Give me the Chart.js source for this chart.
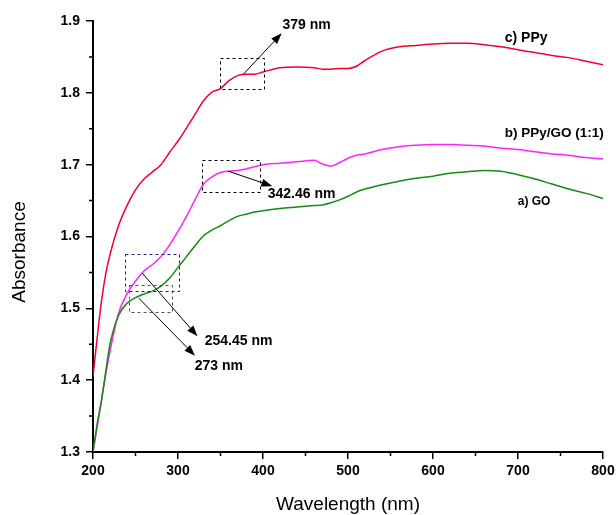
<!DOCTYPE html>
<html>
<head>
<meta charset="utf-8">
<script src="https://cdn.jsdelivr.net/npm/chart.js@4.4.1/dist/chart.umd.min.js"></script>
<style>
  html, body { margin: 0; padding: 0; background: #fff; }
  #wrap { width: 616px; height: 515px; position: relative; }
</style>
</head>
<body>
<div id="wrap"><canvas id="chart"></canvas></div>
<script>
const wavelength = [200, 205, 210, 215, 220, 230, 240, 250, 260, 270, 280, 290, 300, 310, 320, 330, 340, 350, 360, 370, 380, 390, 400, 420, 440, 460, 470, 480, 490, 500, 510, 520, 540, 560, 580, 600, 620, 640, 660, 680, 700, 720, 740, 760, 780, 800];

const ppyAbs = [1.405, 1.46, 1.51, 1.548, 1.575, 1.615, 1.643, 1.665, 1.68, 1.69, 1.70, 1.717, 1.733, 1.751, 1.770, 1.789, 1.801, 1.806, 1.817, 1.824, 1.826, 1.826, 1.829, 1.835, 1.836, 1.835, 1.833, 1.833, 1.834, 1.834, 1.837, 1.845, 1.858, 1.864, 1.866, 1.868, 1.869, 1.869, 1.867, 1.864, 1.860, 1.856, 1.852, 1.849, 1.844, 1.839];

const ppyGoAbs = [1.30, 1.335, 1.372, 1.408, 1.44, 1.493, 1.52, 1.538, 1.552, 1.561, 1.572, 1.588, 1.607, 1.628, 1.651, 1.673, 1.683, 1.689, 1.691, 1.692, 1.694, 1.697, 1.700, 1.702, 1.704, 1.706, 1.701, 1.698, 1.703, 1.709, 1.713, 1.715, 1.721, 1.725, 1.727, 1.728, 1.728, 1.727, 1.726, 1.723, 1.721, 1.718, 1.715, 1.713, 1.710, 1.708];

const goAbs = [1.30, 1.34, 1.372, 1.412, 1.45, 1.49, 1.507, 1.515, 1.52, 1.524, 1.531, 1.542, 1.557, 1.572, 1.587, 1.601, 1.609, 1.615, 1.622, 1.628, 1.631, 1.634, 1.636, 1.639, 1.641, 1.643, 1.644, 1.647, 1.651, 1.656, 1.662, 1.666, 1.672, 1.677, 1.681, 1.684, 1.688, 1.690, 1.692, 1.691, 1.686, 1.680, 1.673, 1.666, 1.660, 1.653];

const xTicks = [200, 300, 400, 500, 600, 700, 800];
const yTicks = [1.3, 1.4, 1.5, 1.6, 1.7, 1.8, 1.9];

// dashed boxes marking the peaks, in data units
const peakBoxes = [
  { x0: 349, x1: 401, y0: 1.806, y1: 1.849, color: "#000" },
  { x0: 328, x1: 396, y0: 1.663, y1: 1.707, color: "#000" },
  { x0: 238, x1: 302, y0: 1.525, y1: 1.576, color: "#1c1c8c" },
  { x0: 242, x1: 293, y0: 1.495, y1: 1.533, color: "#555" },
];
const peakArrows = [
  { from: [377, 1.826], to: [422, 1.883] },
  { from: [359, 1.691], to: [411, 1.670] },
  { from: [258, 1.549], to: [323, 1.461] },
  { from: [254, 1.514], to: [320, 1.434] },
];
const peakLabels = [
  { text: "379 nm", x: 423, y: 1.894 },
  { text: "342.46 nm", x: 405.5, y: 1.659 },
  { text: "254.45 nm", x: 331.4, y: 1.454 },
  { text: "273 nm", x: 319.6, y: 1.419 },
];
const seriesLabels = [
  { text: "c) PPy", x: 684.4, y: 1.876, size: 14 },
  { text: "b) PPy/GO (1:1)", x: 684.4, y: 1.744, size: 13.5 },
  { text: "a) GO", x: 699.7, y: 1.648, size: 12 },
];

const FONT = "'Liberation Sans', Arial, sans-serif";
Chart.defaults.font.family = FONT;
Chart.defaults.color = "#000";

const toPoints = (ys) => wavelength.map((x, i) => ({ x, y: ys[i] }));

const annotationPlugin = {
  id: "peakAnnotations",
  afterDatasetsDraw(chart) {
    const { ctx, scales: { x, y } } = chart;
    ctx.save();

    ctx.lineWidth = 1;
    ctx.setLineDash([3, 3]);
    peakBoxes.forEach((b) => {
      const left = x.getPixelForValue(b.x0);
      const right = x.getPixelForValue(b.x1);
      const top = y.getPixelForValue(b.y1);
      const bottom = y.getPixelForValue(b.y0);
      ctx.strokeStyle = b.color;
      ctx.strokeRect(Math.round(left) + 0.5, Math.round(top) + 0.5, Math.round(right - left), Math.round(bottom - top));
    });
    ctx.setLineDash([]);

    ctx.strokeStyle = "#000";
    ctx.fillStyle = "#000";
    peakArrows.forEach((a) => {
      const x0 = x.getPixelForValue(a.from[0]);
      const y0 = y.getPixelForValue(a.from[1]);
      const x1 = x.getPixelForValue(a.to[0]);
      const y1 = y.getPixelForValue(a.to[1]);
      const ang = Math.atan2(y1 - y0, x1 - x0);
      const headLen = 11;
      const headW = 4;
      const bx = x1 - headLen * Math.cos(ang);
      const by = y1 - headLen * Math.sin(ang);
      ctx.beginPath();
      ctx.moveTo(x0, y0);
      ctx.lineTo(bx, by);
      ctx.stroke();
      ctx.beginPath();
      ctx.moveTo(x1, y1);
      ctx.lineTo(bx + headW * Math.sin(ang), by - headW * Math.cos(ang));
      ctx.lineTo(bx - headW * Math.sin(ang), by + headW * Math.cos(ang));
      ctx.closePath();
      ctx.fill();
    });

    ctx.textBaseline = "middle";
    ctx.textAlign = "left";
    ctx.font = "bold 14px " + FONT;
    peakLabels.forEach((l) => {
      ctx.fillText(l.text, x.getPixelForValue(l.x), y.getPixelForValue(l.y));
    });
    seriesLabels.forEach((l) => {
      ctx.font = "bold " + l.size + "px " + FONT;
      ctx.fillText(l.text, x.getPixelForValue(l.x), y.getPixelForValue(l.y));
    });

    ctx.restore();
  },
  afterDraw(chart) {
    const { ctx, chartArea, scales: { x, y } } = chart;
    ctx.save();
    // minor ticks
    ctx.strokeStyle = "#000";
    ctx.lineWidth = 1.5;
    ctx.beginPath();
    for (let v = 250; v < 800; v += 100) {
      const px = x.getPixelForValue(v);
      ctx.moveTo(px, chartArea.bottom);
      ctx.lineTo(px, chartArea.bottom + 4);
    }
    for (let v = 1.35; v < 1.9; v += 0.1) {
      const py = y.getPixelForValue(v);
      ctx.moveTo(chartArea.left, py);
      ctx.lineTo(chartArea.left - 4, py);
    }
    ctx.stroke();

    // y axis title
    ctx.translate(20, 252);
    ctx.rotate(-Math.PI / 2);
    ctx.font = "19px " + FONT;
    ctx.textAlign = "center";
    ctx.textBaseline = "middle";
    ctx.fillStyle = "#000";
    ctx.fillText("Absorbance", 0, 0);
    ctx.restore();
  },
};

const lineStyle = {
  borderWidth: 1.5,
  pointRadius: 0,
  fill: false,
  cubicInterpolationMode: "monotone",
};

new Chart(document.getElementById("chart"), {
  type: "line",
  data: {
    datasets: [
      { label: "a) GO", data: toPoints(goAbs), borderColor: "#168a16", ...lineStyle },
      { label: "b) PPy/GO (1:1)", data: toPoints(ppyGoAbs), borderColor: "#ff22ff", ...lineStyle },
      { label: "c) PPy", data: toPoints(ppyAbs), borderColor: "#f5002d", ...lineStyle },
    ],
  },
  options: {
    responsive: true,
    maintainAspectRatio: false,
    animation: false,
    layout: { padding: { top: 21, right: 13, left: 0, bottom: 0 } },
    plugins: {
      legend: { display: false },
      tooltip: { enabled: false },
    },
    scales: {
      x: {
        type: "linear",
        min: 200,
        max: 800,
        afterBuildTicks: (scale) => {
          scale.ticks = xTicks.map((value) => ({ value }));
        },
        afterFit: (scale) => {
          scale.height = 63;
          scale.paddingLeft = 0;
          scale.paddingRight = 0;
        },
        border: { display: true, color: "#000", width: 2 },
        grid: {
          drawOnChartArea: false,
          tickLength: 7,
          tickColor: "#000",
          lineWidth: 1.5,
        },
        ticks: {
          padding: 4,
          maxRotation: 0,
          font: { size: 14, weight: "bold" },
          color: "#000",
        },
        title: {
          display: true,
          text: "Wavelength (nm)",
          font: { size: 19, lineHeight: 1 },
          color: "#000",
          padding: { top: 0, bottom: 1 },
        },
      },
      y: {
        type: "linear",
        min: 1.3,
        max: 1.9,
        afterBuildTicks: (scale) => {
          scale.ticks = yTicks.map((value) => ({ value }));
        },
        afterFit: (scale) => {
          scale.width = 93;
          scale.paddingTop = 0;
          scale.paddingBottom = 0;
        },
        border: { display: true, color: "#000", width: 2 },
        grid: {
          drawOnChartArea: false,
          tickLength: 7,
          tickColor: "#000",
          lineWidth: 1.5,
        },
        ticks: {
          padding: 6,
          font: { size: 14, weight: "bold" },
          color: "#000",
          callback: (v) => Number(v).toFixed(1),
        },
      },
    },
  },
  plugins: [annotationPlugin],
});
</script>
</body>
</html>
